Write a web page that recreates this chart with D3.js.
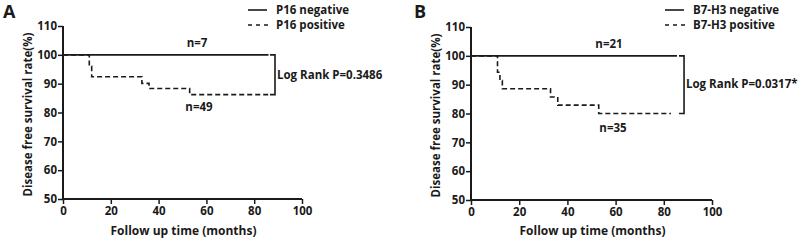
<!DOCTYPE html>
<html>
<head>
<meta charset="utf-8">
<script src="https://cdn.jsdelivr.net/npm/d3@7"></script>
<style>
  html, body { margin: 0; padding: 0; background: #fff; }
  svg text { font-family: "Open Sans", sans-serif; font-weight: bold; fill: #1a1a1a; }
</style>
</head>
<body>
<svg id="chart" width="802" height="243"></svg>
<script>
// ---------- data ----------
const xTicks = [0, 20, 40, 60, 80, 100];
const yTicks = [50, 60, 70, 80, 90, 100, 110];
const xTitle = "Follow up time (months)";
const yTitle = "Disease free survival rate(%)";

const panelLabels = ["A", "B"];
const negLabels = ["P16 negative", "B7-H3 negative"];
const posLabels = ["P16 positive", "B7-H3 positive"];
const negN = ["n=7", "n=21"];
const posN = ["n=49", "n=35"];
const pValues = ["Log Rank P=0.3486", "Log Rank P=0.0317*"];

// Kaplan-Meier step curves: [time(months), survival(%)]
const negCurveA = [[0, 100], [86, 100]];
const posCurveA = [[0, 100], [11, 96], [12, 92.4], [33, 90.1], [36, 88.3], [53, 86.2], [86.5, 86.2]];
const negCurveB = [[0, 100], [85.5, 100]];
const posCurveB = [[0, 100], [11, 94.3], [12, 91.4], [13, 88.6], [33, 85.7], [36, 82.9], [53, 80], [83, 80]];

const bracketX = [88.7, 88.4];     // month where the log-rank bracket sits
const bracketTop = [100, 100];
const bracketBottom = [86.2, 80];

// ---------- layout ----------
const panels = [
  { x0: 63, x1: 302, yTop: 26, yBot: 199, neg: negCurveA, pos: posCurveA,
    lab: [3, 18], leg: [248, 267, 276, 10, 25], nNeg: [197, 47], nPos: [199, 111], pTxt: [277, 79], yTitleX: 27 },
  { x0: 471, x1: 712, yTop: 27, yBot: 200, neg: negCurveB, pos: posCurveB,
    lab: [414, 18], leg: [665, 684, 693, 10, 25], nNeg: [609, 48], nPos: [613, 132], pTxt: [686, 88], yTitleX: 435 }
];

const svg = d3.select("#chart");
const ink = "#1a1a1a";

panels.forEach((p, i) => {
  const x = d3.scaleLinear().domain([0, 100]).range([p.x0, p.x1]);
  const y = d3.scaleLinear().domain([50, 110]).range([p.yBot, p.yTop]);
  const g = svg.append("g");

  // axes
  const xa = g.append("g").attr("transform", `translate(0,${p.yBot})`)
    .call(d3.axisBottom(x).tickValues(xTicks).tickSize(5).tickPadding(3).tickFormat(d3.format("d")));
  const ya = g.append("g").attr("transform", `translate(${p.x0},0)`)
    .call(d3.axisLeft(y).tickValues(yTicks).tickSize(5).tickPadding(1).tickFormat(d3.format("d")));
  [xa, ya].forEach(a => {
    a.select(".domain").attr("stroke", ink).attr("stroke-width", 2);
    a.selectAll(".tick line").attr("stroke", ink).attr("stroke-width", 1.5);
    a.selectAll(".tick text").attr("font-size", 11.5).attr("fill", ink)
      .style("font-family", "'Open Sans', sans-serif").style("font-weight", "bold");
  });
  xa.select(".domain").attr("d", `M${p.x0},0H${p.x1}`);
  ya.select(".domain").attr("d", `M0,${p.yBot}V${p.yTop}`);

  // axis titles
  g.append("text").attr("x", (p.x0 + p.x1) / 2 + 1).attr("y", 235)
    .attr("text-anchor", "middle").attr("font-size", 12).text(xTitle);
  g.append("text").attr("transform", `translate(${p.yTitleX},${(p.yTop + p.yBot) / 2 + 2}) rotate(-90)`)
    .attr("text-anchor", "middle").attr("dominant-baseline", "central").attr("font-size", 11.5).text(yTitle);

  // panel label
  g.append("text").attr("x", p.lab[0]).attr("y", p.lab[1]).attr("font-size", 18).text(panelLabels[i]);

  // curves
  const line = d3.line().x(d => x(d[0])).y(d => y(d[1])).curve(d3.curveStepAfter);
  g.append("path").datum(p.neg).attr("d", line).attr("fill", "none")
    .attr("stroke", ink).attr("stroke-width", 1.6);
  g.append("path").datum(p.pos).attr("d", line).attr("fill", "none")
    .attr("stroke", ink).attr("stroke-width", 1.6).attr("stroke-dasharray", "5,3");

  // bracket
  const bx = x(bracketX[i]);
  const bt = y(bracketTop[i]), bb = y(bracketBottom[i]);
  g.append("path").attr("d", `M${bx - 5},${bt}H${bx}V${bb}H${bx - 5}`)
    .attr("fill", "none").attr("stroke", ink).attr("stroke-width", 1.6);

  // annotations
  g.append("text").attr("x", p.pTxt[0]).attr("y", p.pTxt[1]).attr("font-size", 11.5).text(pValues[i]);
  g.append("text").attr("x", p.nNeg[0]).attr("y", p.nNeg[1]).attr("text-anchor", "middle").attr("font-size", 11.5).text(negN[i]);
  g.append("text").attr("x", p.nPos[0]).attr("y", p.nPos[1]).attr("text-anchor", "middle").attr("font-size", 11.5).text(posN[i]);

  // legend
  const [lx0, lx1, tx, ly1, ly2] = p.leg;
  g.append("line").attr("x1", lx0).attr("x2", lx1).attr("y1", ly1).attr("y2", ly1)
    .attr("stroke", ink).attr("stroke-width", 1.6);
  g.append("line").attr("x1", lx0).attr("x2", lx1 + 2).attr("y1", ly2).attr("y2", ly2)
    .attr("stroke", ink).attr("stroke-width", 1.6).attr("stroke-dasharray", "4,4");
  g.append("text").attr("x", tx).attr("y", ly1 + 4).attr("font-size", 11.5).text(negLabels[i]);
  g.append("text").attr("x", tx).attr("y", ly2 + 4).attr("font-size", 11.5).text(posLabels[i]);
});
</script>
</body>
</html>
